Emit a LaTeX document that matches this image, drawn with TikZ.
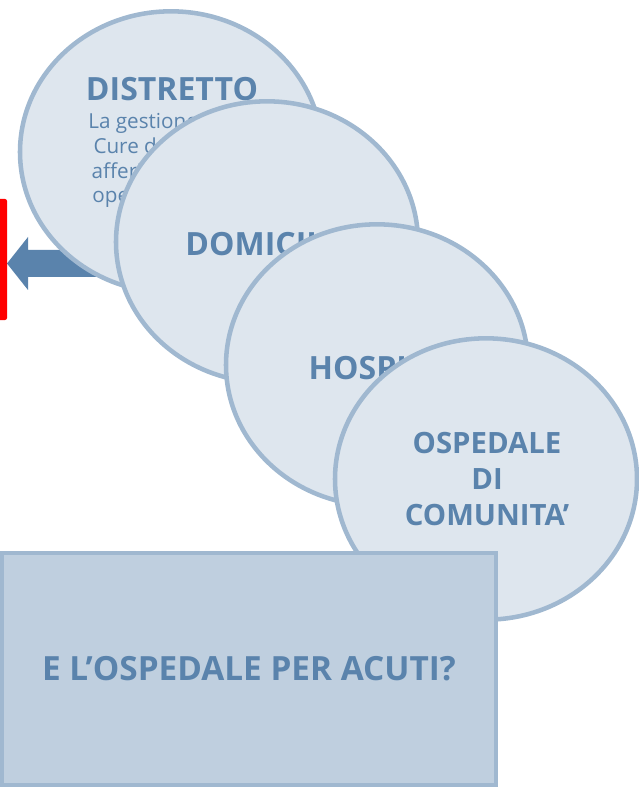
\documentclass[tikz,border=0pt]{standalone}
\usepackage{fontspec}
\setmainfont{Open Sans}
\usetikzlibrary{shapes.geometric}
\definecolor{bubblefill}{HTML}{DEE6EE}
\definecolor{bubbleline}{HTML}{A0B8D0}
\definecolor{boxfill}{HTML}{BFCFDF}
\definecolor{inkblue}{HTML}{5A83AC}
\begin{document}
\begin{tikzpicture}[x=0.75pt, y=-0.75pt,
  bubble/.style = {ellipse, draw=bubbleline, fill=bubblefill, line width=3.4pt, minimum width=226.5pt, minimum height=211pt, inner sep=0pt},
  title/.style = {text=inkblue, font=\bfseries\fontsize{24}{27}\selectfont, align=center, inner sep=0pt},
  note/.style = {text=inkblue, font=\fontsize{15.5}{18.4}\selectfont, align=center, inner sep=0pt}]
\useasboundingbox (0,0) rectangle (638,787);

% arrow and red bar on the left
\fill[inkblue] (7,263.5) -- (28,237) -- (28,250) -- (110,250) -- (110,277) -- (28,277) -- (28,290) -- cycle;
\fill[red, rounded corners=1.5pt] (-6,199) rectangle (7,320);

\node[bubble] (distretto) at (171,152) {};
\node[title] (t1) at (172,89) {DISTRETTO};
\node[note, anchor=north] (n1) at (169,113) {La gestione delle\\Cure domiciliari\\afferisce all'area\\operativamente};

\node[bubble] (domicilio) at (267,242) {};
\node[title] (t2) at (273,244) {DOMICILIO};

\node[bubble] (hospice) at (377,365) {};
\node[title] (t3) at (377,368) {HOSPICE};

\node[bubble] (odc) at (486,479) {};
\node[title, font=\bfseries\fontsize{22}{27}\selectfont] (t4) at (487,479) {OSPEDALE\\DI\\COMUNITA’};

\node[rectangle, draw=bubbleline, fill=boxfill, line width=3pt, minimum width=370.5pt, minimum height=174pt, inner sep=0pt] (acuti) at (249,669) {};
\node[title, font=\bfseries\fontsize{25}{30}\selectfont] (t5) at (acuti.center) {E L’OSPEDALE PER ACUTI?};
\end{tikzpicture}
\end{document}
